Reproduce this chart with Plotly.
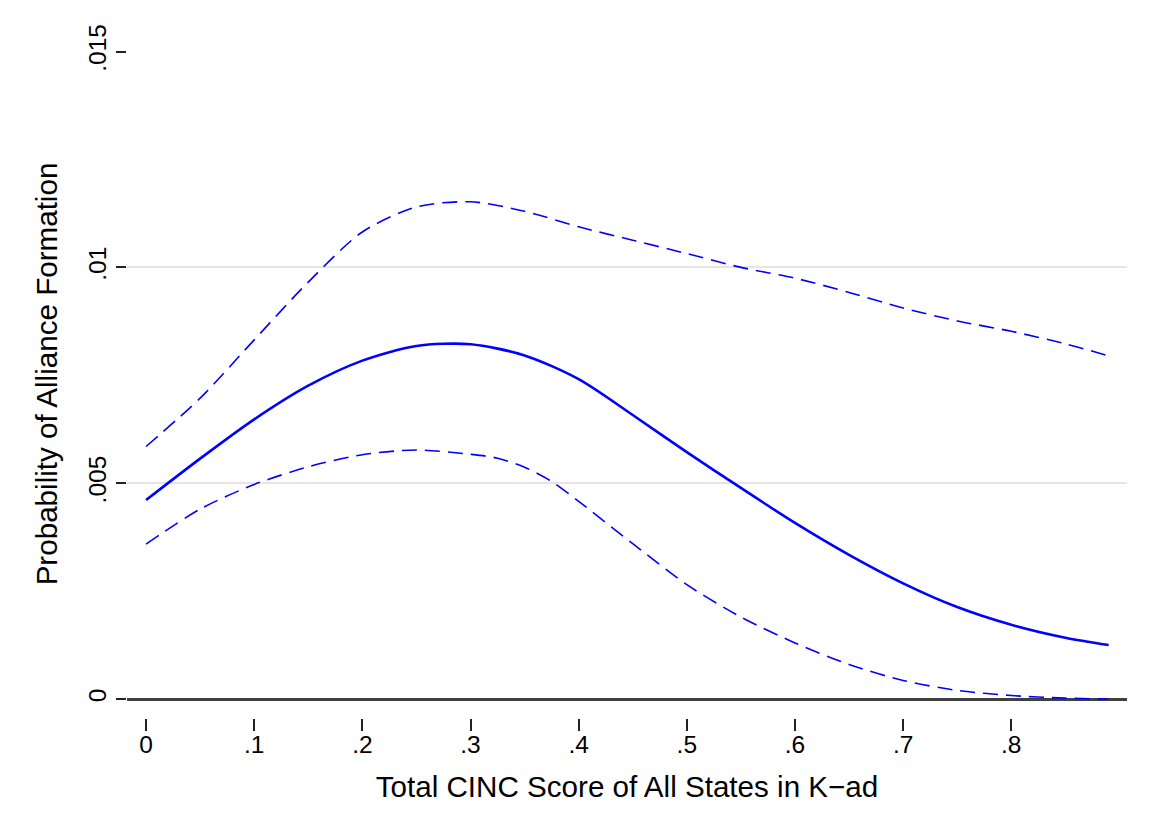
import plotly.graph_objects as go

# CINC score grid (x) and predicted probabilities
cinc = [0.0, 0.05, 0.10, 0.15, 0.20, 0.25, 0.30, 0.35, 0.40, 0.45, 0.50,
        0.55, 0.60, 0.65, 0.70, 0.75, 0.80, 0.85, 0.89]
prob = [0.00461, 0.00557, 0.00648, 0.00726, 0.00784, 0.00818, 0.00822,
        0.00796, 0.00741, 0.00658, 0.00572, 0.00489, 0.00408, 0.00334,
        0.00268, 0.00213, 0.00172, 0.00142, 0.00125]
upper = [0.00585, 0.00697, 0.00832, 0.00966, 0.01082, 0.01140, 0.01152,
         0.01130, 0.01094, 0.01063, 0.01032, 0.01000, 0.00975, 0.00942,
         0.00906, 0.00876, 0.00852, 0.00823, 0.00795]
cinc_lower = [0.0, 0.05, 0.10, 0.15, 0.20, 0.25, 0.30, 0.325, 0.35, 0.375, 0.40,
              0.45, 0.50, 0.55, 0.60, 0.65, 0.70, 0.75, 0.80, 0.85, 0.89]
lower = [0.00359, 0.00440, 0.00497, 0.00538, 0.00566, 0.00577, 0.00567,
         0.00558, 0.00537, 0.00504, 0.00458, 0.00360, 0.00265, 0.00190,
         0.00130, 0.00080, 0.00043, 0.00020, 0.00008, 0.00002, 0.00000]

x_ticks = [0, 0.1, 0.2, 0.3, 0.4, 0.5, 0.6, 0.7, 0.8]
x_labels = ["0", ".1", ".2", ".3", ".4", ".5", ".6", ".7", ".8"]
y_ticks = [0, 0.005, 0.01, 0.015]
y_labels = ["0", ".005", ".01", ".015"]
grid_vals = [0.005, 0.01]

FONT = "Liberation Sans, Arial, sans-serif"
BLUE = "#0000ff"

fig = go.Figure()
# invisible trace on the grid axis so its gridlines are drawn
fig.add_trace(go.Scatter(x=[None], y=[None], yaxis="y2", showlegend=False, hoverinfo="skip"))
fig.add_trace(go.Scatter(x=cinc, y=upper, mode="lines",
                         line=dict(color=BLUE, width=1.6, dash="15px,8px", shape="spline", smoothing=0.8),
                         showlegend=False))
fig.add_trace(go.Scatter(x=cinc_lower, y=lower, mode="lines",
                         line=dict(color=BLUE, width=1.6, dash="15px,8px", shape="spline", smoothing=0.8),
                         showlegend=False))
fig.add_trace(go.Scatter(x=cinc, y=prob, mode="lines",
                         line=dict(color=BLUE, width=2.6, shape="spline", smoothing=0.8),
                         showlegend=False))

yr = [-0.00044, 0.0155]
xr = [-0.0176, 0.907]

fig.update_layout(
    width=1143, height=831,
    margin=dict(l=119, r=24, t=22, b=121),
    paper_bgcolor="white", plot_bgcolor="white",
    font=dict(family=FONT, color="black"),
    xaxis=dict(range=xr, tickvals=x_ticks, ticktext=x_labels, ticks="outside", ticklen=12,
               tickwidth=1.5, tickcolor="#222", showgrid=False, zeroline=False, showline=False,
               tickfont=dict(size=24.5), ticklabelstandoff=-7,
               title=dict(text="Total CINC Score of All States in K\u2212ad", font=dict(size=29.6), standoff=18)),
    yaxis=dict(range=yr, tickvals=y_ticks, ticktext=y_labels, ticks="outside", ticklen=10,
               tickwidth=1.5, tickcolor="#222", showgrid=False, zeroline=True,
               zerolinecolor="#404040", zerolinewidth=2.5, showline=False, tickangle=-90,
               tickfont=dict(size=24.5),
               title=dict(text="Probability of Alliance Formation", font=dict(size=29.6), standoff=17)),
    yaxis2=dict(range=yr, overlaying="y", tickvals=grid_vals, showticklabels=False, ticks="",
                showgrid=True, gridcolor="#e6e6e6", gridwidth=2, zeroline=False, showline=False),
)

fig.write_html("out.html")
